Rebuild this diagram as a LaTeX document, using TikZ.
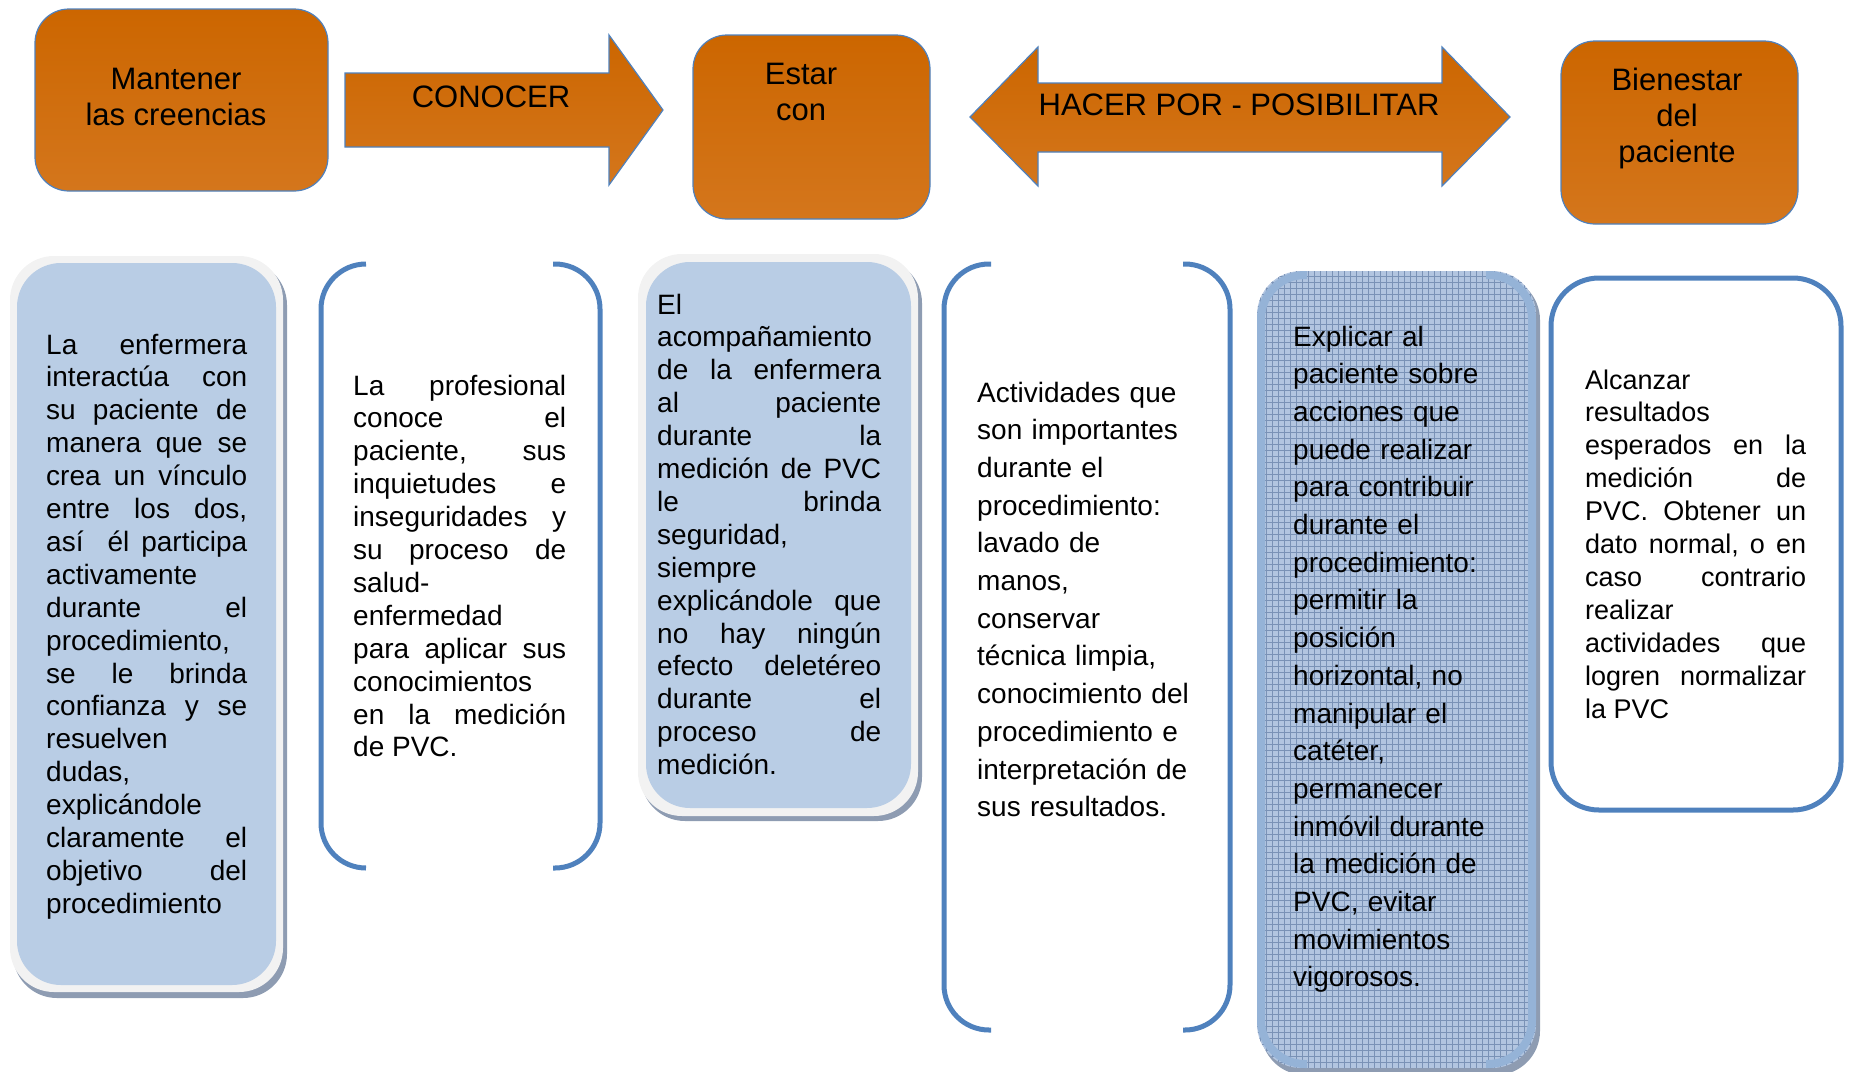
\documentclass[tikz,border=0pt]{standalone}
\usepackage{fontspec}
\setmainfont{Liberation Sans}
\definecolor{orangeA}{HTML}{CC6600}
\definecolor{orangeB}{HTML}{D4761C}
\definecolor{lineblue}{HTML}{4F81BD}
\definecolor{paleblue}{HTML}{B9CDE5}
\definecolor{bevelgray}{HTML}{F2F2F2}
\definecolor{shadowc}{HTML}{8E9CB2}
\definecolor{gridfill}{HTML}{B2C5E0}
\definecolor{gridline}{HTML}{7A92B6}
\definecolor{gridborder}{HTML}{95B3D7}
\tolerance=10000
\hbadness=10000
\frenchspacing
\tikzset{
	orangebox/.style={draw=lineblue, line width=1.2pt, rounded corners=34pt, top color=orangeA, bottom color=orangeB},
	bigarrow/.style={draw=lineblue, line width=1.2pt, top color=orangeA, bottom color=orangeB},
	headtxt/.style={align=center, inner sep=0pt, font=\fontsize{31}{36}\selectfont},
	bodytxt/.style={anchor=base west, inner sep=0pt, align=justify, font=\fontsize{28}{32.9}\selectfont},
	listtxt/.style={anchor=base west, inner sep=0pt, align=left, font=\fontsize{28}{37.7}\selectfont},
	bracket/.style={draw=lineblue, line width=5pt, rounded corners=45pt},
	softbox/.style={rounded corners=44pt}
}

\begin{document}
\begin{tikzpicture}[x=1pt, y=-1pt]
				\useasboundingbox (0,0) rectangle (1850,1071);
				
				\draw[orangebox] (35,9) rectangle (328,191);
				\node[headtxt] (mantener) at (176,97) {Mantener\\las creencias};
				
				\draw[bigarrow] (345,73) -- (609,73) -- (609,35) -- (663,110) -- (609,185) -- (609,147) -- (345,147) -- cycle;
				\node[headtxt] (conocer) at (491,97) {CONOCER};
				
				\draw[orangebox] (693,35) rectangle (930,219);
				\node[headtxt] (estar) at (801,92) {Estar\\con};
				
				\draw[bigarrow] (970,117) -- (1038,47) -- (1038,83) -- (1442,83) -- (1442,47) -- (1510,117) -- (1442,186) -- (1442,152) -- (1038,152) -- (1038,186) -- cycle;
				\node[headtxt] (hacer) at (1239,105) {HACER POR - POSIBILITAR};
				
				\draw[orangebox] (1561,41) rectangle (1798,224);
				\node[headtxt] (bienestar) at (1677,118) {Bienestar\\del\\paciente};
				
				\fill[softbox, shadowc] (13,261) rectangle (287,998);
				\fill[softbox, bevelgray] (10,256) rectangle (283,992);
				\fill[softbox, paleblue] (17,263) rectangle (276,985);
				\node[bodytxt, text width=201pt] (enfermera) at (46,354) {La enfermera\linebreak
					interactúa con\linebreak
					su paciente de\linebreak
					manera que se\linebreak
					crea un vínculo\linebreak
					entre los dos,\linebreak
					así\ \ él participa\linebreak
					activamente\newline
					durante el\linebreak
					procedimiento,\newline
					se le brinda\linebreak
					confianza y se\linebreak
					resuelven\newline
					dudas,\newline
					explicándole\newline
					claramente el\linebreak
					objetivo del\linebreak
					procedimiento};
				
				\draw[bracket] (366,264) -- (321,264) -- (321,868) -- (366,868);
				\draw[bracket] (553,264) -- (600,264) -- (600,868) -- (553,868);
				\node[bodytxt, text width=213pt] (profesional) at (353,395) {La profesional\linebreak
					conoce el\linebreak
					paciente, sus\linebreak
					inquietudes e\linebreak
					inseguridades y\linebreak
					su proceso de\linebreak
					salud-\newline
					enfermedad\newline
					para aplicar sus\linebreak
					conocimientos\newline
					en la medición\linebreak
					de PVC.};
				
				\fill[softbox, shadowc] (641,259) rectangle (922,821);
				\fill[softbox, bevelgray] (638,254) rectangle (918,816);
				\fill[softbox, paleblue] (646,262) rectangle (911,808);
				\node[bodytxt, text width=224pt] (acomp) at (657,314) {El\newline
					acompañamiento\newline
					de la enfermera\linebreak
					al paciente\linebreak
					durante la\linebreak
					medición de PVC\linebreak
					le brinda\linebreak
					seguridad,\newline
					siempre\newline
					explicándole que\linebreak
					no hay ningún\linebreak
					efecto deletéreo\linebreak
					durante el\linebreak
					proceso de\linebreak
					medición.};
				
				\draw[bracket] (991,264) -- (944,264) -- (944,1030) -- (991,1030);
				\draw[bracket] (1183,264) -- (1230,264) -- (1230,1030) -- (1183,1030);
				\node[listtxt, text width=230pt] (actividades) at (977,402) {Actividades que\\son importantes\\durante el\\procedimiento:\\lavado de\\manos,\\conservar\\técnica limpia,\\conocimiento del\\procedimiento e\\interpretación de\\sus resultados.};
				
				\fill[softbox, shadowc] (1261,276) rectangle (1540,1075);
				\begin{scope}
					\clip[softbox] (1257,271) rectangle (1536,1068);
					\fill[gridfill] (1257,271) rectangle (1536,1068);
					\draw[gridline, line width=0.7pt, step=6pt] (1257,271) grid (1536,1068);
				\end{scope}
				\draw[gridborder, line width=8pt, rounded corners=44pt] (1307,275) -- (1261,275) -- (1261,1064) -- (1307,1064);
				\draw[gridborder, line width=8pt, rounded corners=44pt] (1486,275) -- (1532,275) -- (1532,1064) -- (1486,1064);
				\node[listtxt, text width=225pt] (explicar) at (1293,346) {Explicar al\\paciente sobre\\acciones que\\puede realizar\\para contribuir\\durante el\\procedimiento:\\permitir la\\posición\\horizontal, no\\manipular el\\catéter,\\permanecer\\inmóvil durante\\la medición de\\PVC, evitar\\movimientos\\vigorosos.};
				
				\draw[lineblue, line width=5pt, rounded corners=48pt] (1551,278) rectangle (1841,810);
				\node[bodytxt, text width=221pt, font=\fontsize{27}{32.9}\selectfont] (alcanzar) at (1585,389) {Alcanzar\newline
					resultados\newline
					esperados en la\linebreak
					medición de\linebreak
					PVC. Obtener un\linebreak
					dato normal, o en\linebreak
					caso contrario\linebreak
					realizar\newline
					actividades que\linebreak
					logren normalizar\linebreak
					la PVC};
			\end{tikzpicture}
\end{document}
